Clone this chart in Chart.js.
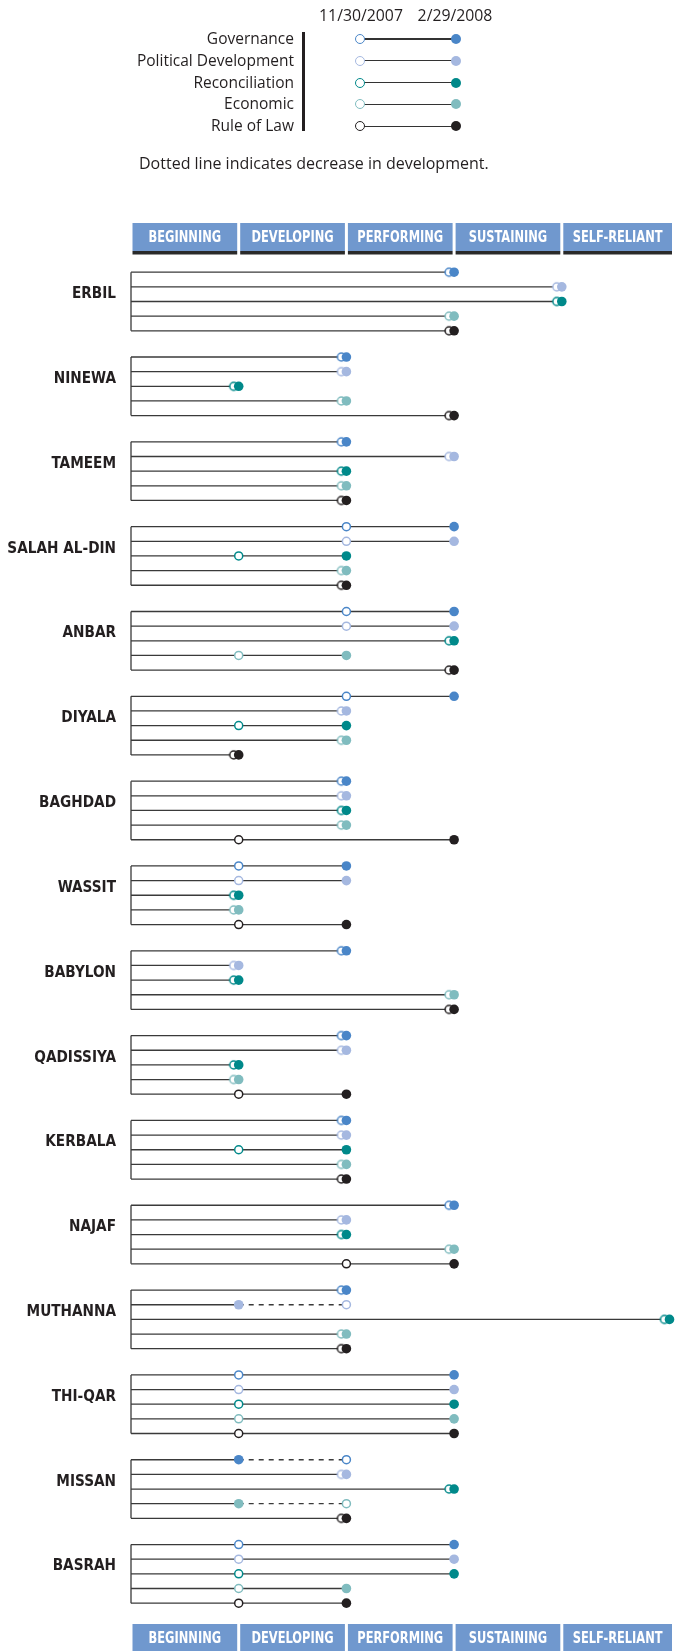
<!DOCTYPE html>
<html>
<head>
<meta charset="utf-8">
<script src="https://cdn.jsdelivr.net/npm/chart.js@4.4.1/dist/chart.umd.min.js"></script>
<style>
  body { margin: 0; background: #fff; }
  #wrap { position: relative; width: 675px; height: 1651px; overflow: hidden; font-family: "Open Sans", sans-serif; color: #231f20; }
  #chart { position: absolute; left: 0; top: 0; }
  .date { position: absolute; top: 4px; font-size: 15.8px; line-height: 22px; transform: translateX(-50%); white-space: nowrap; }
  .lbl { position: absolute; right: 381px; font-size: 15.5px; line-height: 20px; white-space: nowrap; }
  .bar { position: absolute; left: 302px; top: 32px; width: 2.5px; height: 99px; background: #231f20; }
  .stem { position: absolute; left: 360px; width: 96px; height: 1.2px; background: #333; }
  .dot { position: absolute; width: 10px; height: 10px; border-radius: 50%; box-sizing: border-box; }
  .note { position: absolute; left: 139px; top: 152px; font-size: 16px; line-height: 22px; white-space: nowrap; }
</style>
</head>
<body>
<div id="wrap">
  <canvas id="chart" width="675" height="1651"></canvas>
  <div id="legend"></div>
  <div class="note">Dotted line indicates decrease in development.</div>
</div>
<script>
const PROVINCES = ['ERBIL', 'NINEWA', 'TAMEEM', 'SALAH AL-DIN', 'ANBAR', 'DIYALA', 'BAGHDAD', 'WASSIT',
    'BABYLON', 'QADISSIYA', 'KERBALA', 'NAJAF', 'MUTHANNA', 'THI-QAR', 'MISSAN', 'BASRAH'];
const LEVELS = ['BEGINNING', 'DEVELOPING', 'PERFORMING', 'SUSTAINING', 'SELF-RELIANT'];
const CATEGORIES = ['Governance', 'Political Development', 'Reconciliation', 'Economic', 'Rule of Law'];
const DATES = ['11/30/2007', '2/29/2008'];
const COLORS = ['#4a86c8', '#a5b8e0', '#00898a', '#80bcbf', '#231f20'];

// 1 = Beginning ... 5 = Self-Reliant, one value per province
const governanceNov    = [3, 2, 2, 2, 2, 2, 2, 1, 2, 2, 2, 3, 2, 1, 2, 1];
const governanceFeb    = [3, 2, 2, 3, 3, 3, 2, 2, 2, 2, 2, 3, 2, 3, 1, 3];
const politicalNov     = [4, 2, 3, 2, 2, 2, 2, 1, 1, 2, 2, 2, 2, 1, 2, 1];
const politicalFeb     = [4, 2, 3, 3, 3, 2, 2, 2, 1, 2, 2, 2, 1, 3, 2, 3];
const reconciliationNov = [4, 1, 2, 1, 3, 1, 2, 1, 1, 1, 1, 2, 5, 1, 3, 1];
const reconciliationFeb = [4, 1, 2, 2, 3, 2, 2, 1, 1, 1, 2, 2, 5, 3, 3, 3];
const economicNov      = [3, 2, 2, 2, 1, 2, 2, 1, 3, 1, 2, 3, 2, 1, 2, 1];
const economicFeb      = [3, 2, 2, 2, 2, 2, 2, 1, 3, 1, 2, 3, 2, 3, 1, 2];
const ruleOfLawNov     = [3, 3, 2, 2, 3, 1, 1, 1, 3, 1, 2, 2, 2, 1, 2, 1];
const ruleOfLawFeb     = [3, 3, 2, 2, 3, 1, 3, 2, 3, 2, 2, 3, 2, 3, 2, 2];

const NOV = [governanceNov, politicalNov, reconciliationNov, economicNov, ruleOfLawNov];
const FEB = [governanceFeb, politicalFeb, reconciliationFeb, economicFeb, ruleOfLawFeb];

const GROUP_STEP = 5.79;
const rowY = (g, k) => g * GROUP_STEP + k;
const CONDENSED = '"DejaVu Sans Condensed", "Liberation Sans Narrow", sans-serif';

// legend
function buildLegend() {
    const legend = document.getElementById('legend');
    let html = `<div class="date" style="left:361px">${DATES[0]}</div><div class="date" style="left:455px">${DATES[1]}</div>`;
    html += '<div class="bar"></div>';
    CATEGORIES.forEach((name, k) => {
        const y = 39 + k * 21.8;
        html += `<div class="lbl" style="top:${y - 11}px">${name}</div>`;
        html += `<div class="stem" style="top:${y - 0.6}px"></div>`;
        html += `<div class="dot" style="left:355px;top:${y - 5}px;background:#fff;border:1.5px solid ${COLORS[k]}"></div>`;
        html += `<div class="dot" style="left:451px;top:${y - 5}px;background:${COLORS[k]}"></div>`;
    });
    legend.innerHTML = html;
}
buildLegend();

// open ring drawn a little left of centre, used where nothing changed
function shiftedRing(color) {
    const c = document.createElement('canvas');
    c.width = 26; c.height = 14;
    const g = c.getContext('2d');
    g.beginPath();
    g.arc(13 - 5, 7, 4, 0, Math.PI * 2);
    g.fillStyle = '#fff';
    g.fill();
    g.lineWidth = 1.5;
    g.strokeStyle = color;
    g.stroke();
    return c;
}

const stemData = [];
PROVINCES.forEach((p, g) => {
    stemData.push({ x: 0, y: rowY(g, 0) }, { x: 0, y: rowY(g, 4) }, { x: NaN, y: NaN });
    CATEGORIES.forEach((c, k) => {
        const a = NOV[k][g], b = FEB[k][g], y = rowY(g, k);
        stemData.push({ x: 0, y }, { x: Math.min(a, b), y });
        if (a !== b) stemData.push({ x: Math.max(a, b), y, dashed: b < a });
        stemData.push({ x: NaN, y: NaN });
    });
});

const datasets = [{
    label: 'stems',
    data: stemData,
    showLine: true,
    borderColor: '#3a3a3a',
    borderWidth: 1.3,
    pointRadius: 0,
    order: 2,
    clip: false,
    segment: {
        borderDash: ctx => stemData[ctx.p1DataIndex].dashed ? [5, 5] : undefined
    }
}];

CATEGORIES.forEach((name, k) => {
    const ring = shiftedRing(COLORS[k]);
    datasets.push({
        label: name + ' ' + DATES[0],
        data: NOV[k].map((v, g) => ({ x: v, y: rowY(g, k) })),
        pointStyle: ctx => NOV[k][ctx.dataIndex] === FEB[k][ctx.dataIndex] ? ring : 'circle',
        pointRadius: 4,
        borderWidth: 1.5,
        borderColor: COLORS[k],
        backgroundColor: '#fff',
        order: 1,
        clip: false
    });
    datasets.push({
        label: name + ' ' + DATES[1],
        data: FEB[k].map((v, g) => ({ x: v, y: rowY(g, k) })),
        pointStyle: 'circle',
        pointRadius: 4.8,
        borderWidth: 0,
        backgroundColor: COLORS[k],
        order: 0,
        clip: false
    });
});

const levelHeaders = {
    id: 'levelHeaders',
    afterDraw(chart) {
        const { ctx, scales: { x } } = chart;
        ctx.save();
        [223, 1624].forEach(top => {
            LEVELS.forEach((name, i) => {
                const x0 = x.getPixelForValue(i) + 1.5;
                const x1 = i === LEVELS.length - 1 ? x.getPixelForValue(i + 1) + 2.5 : x.getPixelForValue(i + 1) - 1.5;
                ctx.fillStyle = '#7098ce';
                ctx.fillRect(x0, top, x1 - x0, 28);
                ctx.fillStyle = '#2a2a2a';
                ctx.fillRect(x0, top + 28, x1 - x0, 3.5);
                ctx.save();
                ctx.translate((x0 + x1) / 2, top + 14.5);
                ctx.scale(0.82, 1);
                ctx.fillStyle = '#fff';
                ctx.font = 'bold 15.5px ' + CONDENSED;
                ctx.textAlign = 'center';
                ctx.textBaseline = 'middle';
                ctx.fillText(name, 0, 0);
                ctx.restore();
            });
        });
        ctx.restore();
    }
};

new Chart(document.getElementById('chart'), {
    type: 'scatter',
    data: { datasets },
    options: {
        responsive: false,
        animation: false,
        events: [],
        layout: { padding: { top: 257.55, bottom: 31, left: 0, right: 5.5 } },
        plugins: { legend: { display: false }, tooltip: { enabled: false } },
        scales: {
            x: { type: 'linear', min: 0, max: 5, display: false },
            y: {
                type: 'linear',
                reverse: true,
                min: -1,
                max: 92,
                grid: { display: false, drawTicks: false },
                border: { display: false },
                afterFit: s => { s.width = 131; },
                afterBuildTicks: s => { s.ticks = PROVINCES.map((p, g) => ({ value: rowY(g, 1.5) })); },
                ticks: {
                    autoSkip: false,
                    padding: 15,
                    color: '#231f20',
                    font: { family: CONDENSED, size: 15.2, weight: 'bold' },
                    callback: (v, i) => PROVINCES[i]
                }
            }
        }
    },
    plugins: [levelHeaders]
});
</script>
</body>
</html>
